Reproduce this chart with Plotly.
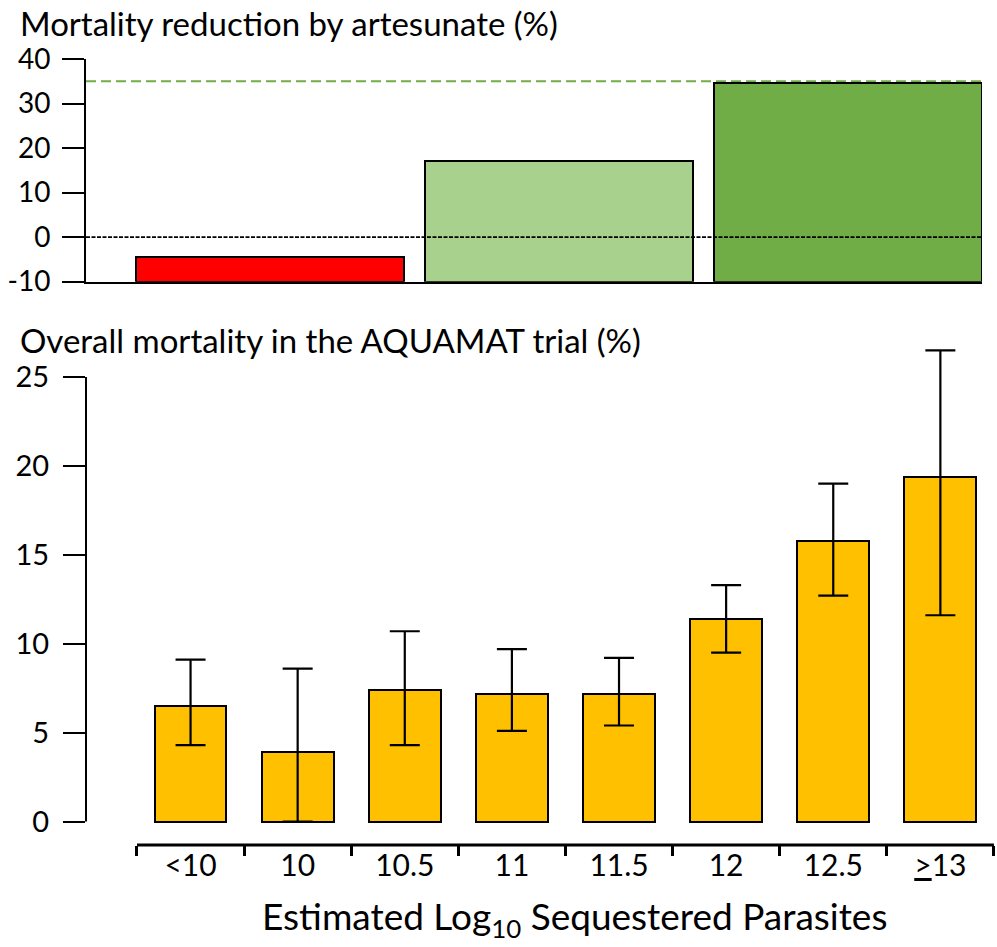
import plotly.graph_objects as go

# ---------------- data ----------------
top_groups = ["low", "mid", "high"]
top_reduction = [-4.5, 17.1, 34.7]
top_colors = ["#FF0000", "#A9D18E", "#70AD47"]
top_reference = 35
top_ticks = [-10, 0, 10, 20, 30, 40]
top_tick_labels = ["-10", "0", "10", "20", "30", "40"]

categories = ["<10", "10", "10.5", "11", "11.5", "12", "12.5", ">=13"]
tick_labels = ["<10", "10", "10.5", "11", "11.5", "12", "12.5",
               "<span style='text-decoration:underline'>&gt;</span>13"]
mortality = [6.5, 3.9, 7.4, 7.2, 7.2, 11.4, 15.8, 19.4]
upper = [9.1, 8.6, 10.7, 9.7, 9.2, 13.3, 19.0, 26.5]
lower = [4.3, 0.0, 4.3, 5.1, 5.4, 9.5, 12.7, 11.6]

err_plus = [u - m for u, m in zip(upper, mortality)]
err_minus = [m - l for m, l in zip(mortality, lower)]

FONT = "Lato"

fig = go.Figure()

fig.add_trace(go.Bar(
    x=list(range(len(top_groups))), y=[v + 10 for v in top_reduction], base=-10,
    width=0.927, marker=dict(color=top_colors, line=dict(color="black", width=2)),
    xaxis="x", yaxis="y", showlegend=False, hoverinfo="skip"))

fig.add_trace(go.Bar(
    x=categories, y=mortality, width=0.67,
    marker=dict(color="#FFC000", line=dict(color="black", width=2)),
    error_y=dict(type="data", symmetric=False, array=err_plus, arrayminus=err_minus,
                 color="black", thickness=2.2, width=15),
    xaxis="x2", yaxis="y2", showlegend=False))

fig.update_layout(
    width=997, height=947,
    margin=dict(l=86, r=2, t=59, b=102),
    paper_bgcolor="white", plot_bgcolor="white",
    font=dict(family=FONT, color="black"),
    bargap=0,
    xaxis=dict(domain=[0, 0.9857], range=[-0.638, 2.464], showticklabels=False,
               ticks="", showline=True, linecolor="black", linewidth=2,
               showgrid=False, zeroline=False, anchor="y"),
    yaxis=dict(domain=[0.7167, 1.0], range=[-10, 40], tickmode="array",
               tickvals=top_ticks, ticktext=top_tick_labels,
               ticks="outside", ticklen=22, tickwidth=2, tickcolor="black",
               showline=True, linecolor="black", linewidth=2, showgrid=False,
               zeroline=False, tickfont=dict(size=28, family=FONT),
               ticklabelstandoff=6, anchor="x"),
    xaxis2=dict(domain=[0, 1], range=[-0.976, 7.51], type="category",
                tickmode="array", tickvals=categories, ticktext=tick_labels,
                tickson="boundaries", ticks="outside", ticklen=10, tickwidth=3,
                tickcolor="black", showline=False, showgrid=False, zeroline=False,
                tickfont=dict(size=30, family=FONT), anchor="y2"),
    yaxis2=dict(domain=[0, 0.6425], range=[-1.32, 27.08], tickvals=[0, 5, 10, 15, 20, 25],
                ticks="outside", ticklen=22, tickwidth=2, tickcolor="black",
                showline=False, showgrid=False, zeroline=False,
                tickfont=dict(size=29, family=FONT), ticklabelstandoff=8, anchor="x2"),
)

shapes = [
    # green reference dashed line
    dict(type="line", xref="paper", yref="y", x0=0, x1=0.9857, y0=top_reference, y1=top_reference,
         line=dict(color="#70AD47", width=2, dash="10px,5px"), layer="below"),
    # dotted zero line
    dict(type="line", xref="paper", yref="y", x0=-0.0242, x1=0.9857, y0=0, y1=0,
         line=dict(color="black", width=1.6, dash="4px,1.5px"), layer="above"),
    # bottom x axis line
    dict(type="line", xref="x2", yref="y2 domain", x0=-0.5, x1=7.5, y0=0, y1=0,
         line=dict(color="black", width=3)),
    # bottom y axis line
    dict(type="line", xref="x2 domain", yref="y2", x0=0, x1=0, y0=0, y1=25,
         line=dict(color="black", width=2)),
]
fig.update_layout(shapes=shapes)

annotations = [
    dict(text="Mortality reduction by artesunate (%)", xref="paper", yref="paper",
         x=-0.0748, y=1.046, xanchor="left", yanchor="middle", showarrow=False,
         font=dict(size=33, family=FONT)),
    dict(text="Overall mortality in the AQUAMAT trial (%)", xref="paper", yref="paper",
         x=-0.0748, y=0.6425, xanchor="left", yanchor="middle", showarrow=False,
         font=dict(size=33, family=FONT)),
    dict(text="Estimated Log<sub>10</sub> Sequestered Parasites", xref="paper", yref="paper",
         x=0.537, y=-0.0929, xanchor="center", yanchor="middle", showarrow=False,
         font=dict(size=37, family=FONT)),
]
fig.update_layout(annotations=annotations)

fig.write_html("out.html", config={"displayModeBar": False},
               post_script="document.body.style.margin='0px';")
